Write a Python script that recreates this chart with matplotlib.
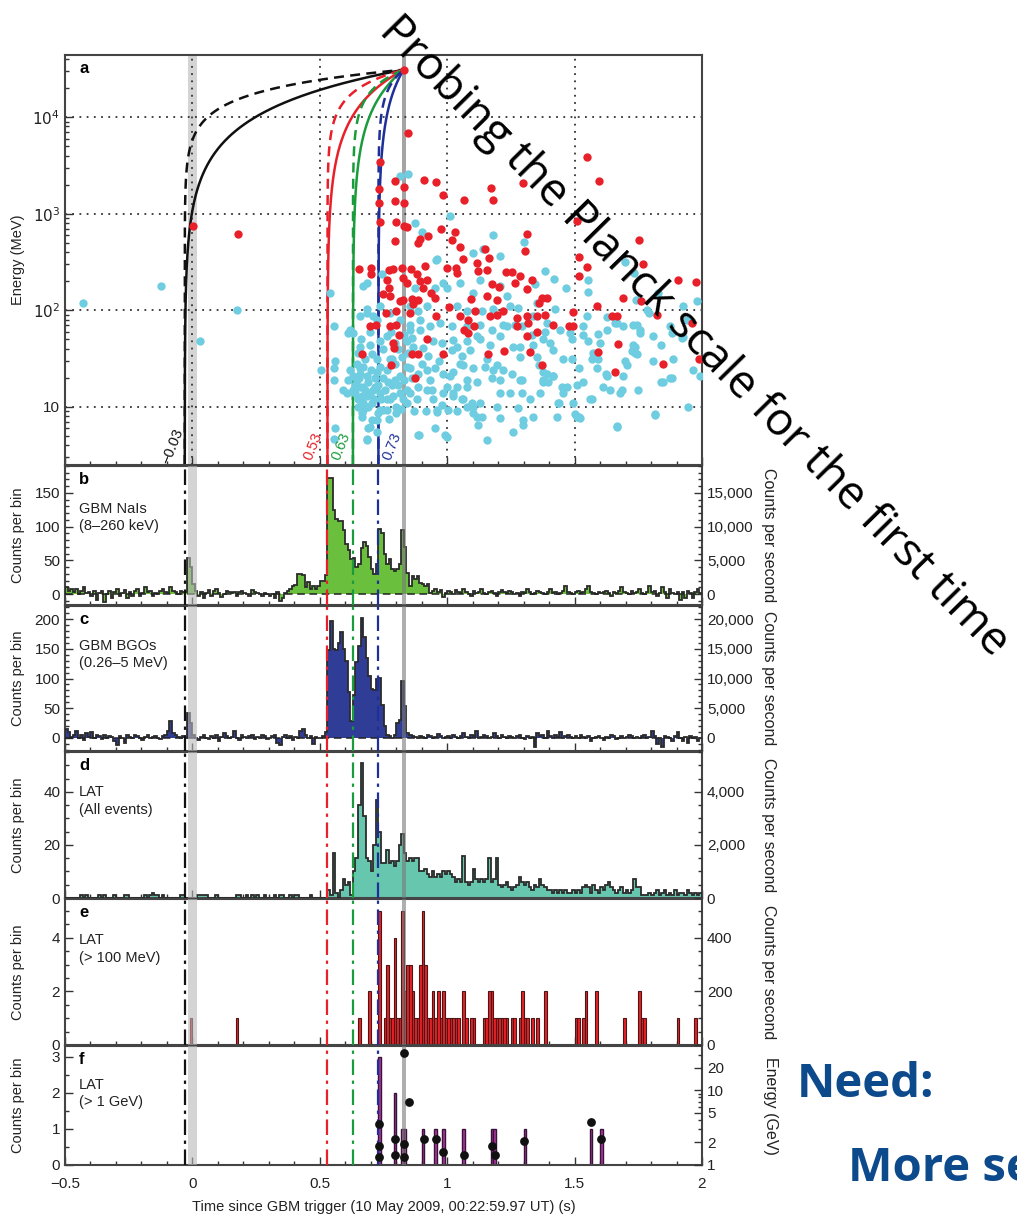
import numpy as np
import matplotlib
matplotlib.use('Agg')
import matplotlib.pyplot as plt
from matplotlib.ticker import MultipleLocator, FixedLocator, FuncFormatter, NullFormatter, LogLocator

plt.rcParams['font.family'] = ['Liberation Sans', 'DejaVu Sans']
plt.rcParams['font.size'] = 10
plt.rcParams['axes.unicode_minus'] = True

# ---------------- data ----------------
# start times of the delay curves / dash-dot markers (s)
t_starts = [-0.03, 0.53, 0.63, 0.73]
t_labels = ['\u22120.03', '0.53', '0.63', '0.73']
t_colors = ['#111111', '#e8202a', '#1a9c3c', '#1f2f9a']
t_peak = 0.829          # arrival of the 31 GeV photon
e_peak = 31000.0        # MeV

# LAT events > 100 MeV (time s, energy MeV)
red_events = [
    (0.004, 743), (0.179, 610), (0.829, 31000),
    (0.845, 6780), (1.550, 3880), (1.596, 2180), (0.909, 2250), (0.956, 2130), (0.795, 2200),
    (0.832, 1910), (1.170, 1830), (1.181, 1380), (1.067, 1380), (0.985, 1560), (1.296, 2100),
    (0.736, 3440), (0.732, 1820), (0.732, 1280), (0.832, 1280), (0.795, 1370), (0.736, 820),
    (0.801, 820), (0.832, 745), (0.843, 733), (0.976, 688), (1.031, 650), (1.312, 611),
    (1.306, 410), (0.795, 521), (0.893, 542), (0.926, 586), (0.886, 500), (1.017, 533),
    (1.050, 451), (1.148, 427), (1.164, 350), (1.508, 840), (1.754, 528), (1.518, 358),
    (1.547, 280), (1.518, 225), (1.770, 305), (1.907, 208), (1.976, 195), (1.760, 124),
    (1.691, 134), (1.586, 110), (1.645, 88), (1.665, 88), (1.822, 90), (1.959, 73),
    (1.671, 45), (1.593, 37), (1.848, 28), (1.990, 31), (1.658, 23), (0.655, 269),
    (0.699, 275), (0.699, 235), (0.773, 264), (0.789, 269), (0.821, 275), (0.858, 269),
    (0.828, 217), (0.841, 192), (0.880, 235), (0.913, 286), (0.919, 208), (0.893, 200),
    (0.906, 171), (0.935, 151), (0.952, 134), (0.998, 275), (1.034, 275), (1.037, 244),
    (1.063, 336), (1.116, 310), (1.120, 254), (1.155, 264), (1.231, 250), (1.254, 248),
    (1.286, 225), (1.266, 192), (1.331, 208), (1.312, 167), (1.174, 185), (1.204, 175),
    (1.092, 131), (1.155, 140), (1.194, 129), (1.371, 134), (1.390, 134), (1.361, 119),
    (0.765, 208), (0.770, 171), (0.747, 146), (0.776, 140), (0.815, 124), (0.828, 129),
    (0.861, 131), (0.867, 115), (0.887, 129), (0.760, 94), (0.801, 98), (0.854, 94),
    (0.958, 87), (1.008, 107), (1.050, 87), (1.083, 80), (1.106, 69), (1.109, 98),
    (1.168, 87), (1.194, 90), (1.220, 99), (1.273, 83), (1.312, 87), (1.318, 74),
    (1.273, 68), (1.351, 87), (1.384, 90), (1.416, 71), (1.479, 69), (1.492, 69),
    (1.492, 95), (0.697, 69), (0.720, 71), (0.775, 68), (0.801, 71), (0.812, 55),
    (0.789, 46), (0.792, 41), (0.919, 51), (0.887, 35), (0.860, 35), (0.664, 35),
    (0.985, 35), (1.224, 38), (1.325, 37), (1.161, 35), (1.312, 54), (1.351, 60),
    (1.371, 27), (1.083, 58), (1.067, 63), (0.874, 20), (0.778, 27),
]

# LAT events < 100 MeV (time s, energy MeV)
cyan_events = [
    (-0.428, 119), (-0.122, 177), (0.174, 100), (0.030, 48), (0.540, 151), (0.503, 24),
    (0.557, 68), (0.612, 58), (0.557, 25), (0.557, 19), (0.557, 4.7), (0.671, 177),
    (0.815, 2460), (0.845, 2600), (0.874, 805), (1.011, 946), (1.181, 601), (1.142, 434),
    (1.207, 364), (1.301, 513), (1.384, 254), (1.419, 213), (1.466, 171), (1.345, 185),
    (0.903, 646), (0.956, 328), (1.554, 208), (1.554, 155), (1.698, 316), (1.734, 244),
    (1.979, 124), (1.940, 80), (1.874, 69), (1.924, 53), (1.966, 24), (1.992, 21),
    (1.946, 10), (1.815, 8.5), (1.665, 6.3), (1.841, 18), (1.874, 20), (1.806, 30),
    (1.698, 30), (1.750, 15), (1.678, 14), (1.639, 15), (1.613, 16), (1.623, 22),
    (1.593, 31), (1.573, 36), (1.590, 57), (1.626, 85), (1.658, 74), (1.730, 71),
    (1.757, 63), (1.793, 94), (1.737, 42), (1.691, 69), (1.534, 55), (1.554, 48),
    (1.567, 12), (1.508, 17), (1.518, 7.8), (1.501, 8.5), (1.469, 16), (1.456, 14),
    (1.436, 11), (1.390, 22), (1.397, 18), (1.416, 21), (1.377, 19), (1.361, 27),
    (1.325, 12), (1.296, 6.5), (1.259, 5.5), (1.286, 19), (1.207, 7.6), (1.155, 4.5),
    (1.135, 7.8), (1.076, 10), (1.060, 12), (1.102, 8.6), (1.096, 11), (1.129, 11),
    (0.998, 4.9), (0.952, 6.0), (0.890, 5.1), (0.917, 9.0), (0.959, 9.3), (1.004, 9.3),
    (0.985, 14), (1.021, 14), (1.037, 16), (0.939, 15), (0.886, 16), (0.880, 12),
    (0.841, 11), (0.801, 10), (0.854, 14), (0.815, 14), (0.775, 12), (0.749, 9.3),
    (0.690, 6.0), (0.684, 4.7), (0.730, 8.6), (0.703, 7.3), (0.664, 8.6), (0.651, 10),
    (0.638, 14), (0.664, 13), (0.697, 14), (0.736, 14), (0.716, 16), (0.671, 16),
    (0.645, 19), (0.684, 21), (0.723, 23), (0.762, 24), (0.795, 19), (0.658, 25),
    (0.677, 31), (0.723, 31), (0.782, 31), (0.821, 33), (0.854, 25), (0.887, 22),
    (0.919, 24), (0.952, 25), (0.985, 22), (1.024, 23), (1.063, 27), (1.102, 25),
    (1.148, 26), (1.194, 27), (1.220, 24), (1.253, 22), (1.174, 20), (1.116, 18),
    (1.076, 16), (1.207, 14), (1.246, 14), (1.364, 14), (1.430, 7.9), (1.338, 7.9),
    (1.194, 10), (0.605, 14), (0.612, 19), (0.618, 24), (0.651, 36), (0.697, 44),
    (0.736, 48), (0.762, 54), (0.795, 46), (0.841, 48), (0.867, 42), (0.906, 41),
    (0.946, 48), (0.978, 46), (1.017, 39), (1.037, 42), (1.076, 48), (1.129, 50),
    (1.168, 44), (1.207, 54), (1.259, 42), (1.286, 33), (1.332, 56), (1.377, 50),
    (1.416, 39), (1.456, 31), (1.489, 50), (1.443, 63), (1.390, 74), (1.338, 87),
    (1.292, 68), (1.233, 68), (1.174, 63), (1.129, 71), (1.076, 68), (1.017, 68),
    (0.972, 74), (0.932, 68), (0.893, 63), (0.854, 71), (0.815, 80), (0.775, 94),
    (0.736, 110), (0.710, 87), (0.684, 102), (0.658, 87), (0.618, 63), (0.684, 192),
    (0.743, 235), (0.873, 171), (0.854, 110), (0.887, 98), (0.919, 110), (0.959, 336),
    (0.998, 171), (1.037, 110), (1.076, 98), (1.135, 98), (1.181, 102), (1.246, 110),
    (1.279, 106), (1.351, 119), (1.423, 102), (1.547, 87), (1.741, 129), (1.927, 110),
    (1.829, 151), (1.809, 54), (1.724, 38), (1.888, 31), (1.841, 44), (1.050, 192),
    (1.102, 151), (1.207, 177), (1.233, 140), (1.129, 208), (1.102, 394), (0.985, 192),
    (0.952, 171), (0.560, 30), (0.560, 6.0), (0.592, 15), (0.658, 22), (0.651, 12),
    (0.671, 9.3), (0.697, 6.2), (0.684, 4.5), (0.658, 16), (0.684, 13), (0.710, 15),
    (0.704, 11), (0.664, 7.9), (0.762, 9.3), (0.762, 12), (0.782, 17), (0.841, 15),
    (0.887, 5.1), (0.991, 5.1), (0.959, 8.9), (1.024, 13), (1.116, 7.9), (1.122, 6.5),
    (1.207, 19), (1.181, 24), (1.103, 10), (1.063, 12), (0.658, 42), (0.632, 58),
    (0.697, 60), (0.723, 80), (0.684, 94), (0.854, 63), (0.893, 80), (1.024, 49),
    (1.089, 39), (1.116, 54), (1.155, 31), (1.050, 28), (1.076, 19), (0.998, 16),
    (0.932, 19), (0.919, 15), (0.815, 21), (0.841, 26), (0.775, 31), (0.736, 26),
    (0.828, 12), (0.801, 8.6), (0.736, 9.3), (0.723, 5.5), (0.723, 7.3), (0.690, 18),
    (0.671, 26), (0.632, 21), (0.632, 15), (1.299, 7.3), (1.279, 9.7), (1.292, 14),
    (1.377, 18), (1.417, 21), (1.449, 16), (1.440, 11), (1.495, 11), (1.508, 7.9),
    (1.521, 7.6), (1.534, 18), (1.560, 12), (1.626, 21), (1.665, 6.2), (1.685, 15),
    (1.691, 21), (1.704, 27), (1.744, 35), (1.816, 8.2), (1.848, 18), (1.881, 20),
    (1.567, 31), (1.587, 25), (1.600, 46), (1.730, 44), (1.737, 36), (1.626, 63),
    (1.665, 74), (1.744, 71), (1.757, 58), (1.783, 101), (1.881, 58), (1.920, 52),
    (1.403, 46), (1.488, 31), (1.518, 25), (1.534, 68), (1.482, 58), (1.384, 60),
    (1.351, 33), (1.338, 44), (1.286, 42), (1.266, 71), (1.220, 71), (1.292, 19),
    (1.377, 23), (0.640, 17), (0.655, 20), (0.668, 11), (0.678, 15), (0.690, 10),
    (0.700, 24), (0.712, 12), (0.718, 20), (0.728, 17), (0.742, 12), (0.748, 20),
    (0.755, 15), (0.768, 18), (0.772, 7.5), (0.788, 13), (0.795, 28), (0.808, 17),
    (0.820, 9.5), (0.832, 19), (0.848, 36), (0.862, 20), (0.870, 9.0), (0.900, 28),
    (0.925, 34), (0.945, 12), (0.968, 30), (0.980, 10.5), (1.010, 21), (1.040, 9.0),
    (1.058, 34), (0.645, 28), (0.662, 50), (0.705, 35), (0.748, 40), (0.780, 60),
    (0.808, 40), (0.830, 56), (0.862, 52),
]

# light curves, counts per 0.01 s bin from -0.50 s to 2.00 s (rows of 0.25 s)
bin_width = 0.01
nai_counts = (
    [10, 5, 8, 3, 8, 0, 5, 10, 2, 3, -3, 5, -8, 2, 5, -12, 0, 5, -5, 3, 8, -3, 2, 6, -5]
    + [3, -2, 5, 8, -3, 2, 10, 3, 5, -3, 2, 0, 5, 8, 3, 2, 10, 5, 3, 0, 5, 3, 3, 54, 40]
    + [15, 5, -2, 3, -5, 2, 6, -3, 5, 8, 2, -4, 0, 5, 3, 2, 4, -2, 3, 5, 2, 0, -3, 6, 4]
    + [2, 0, -3, 2, 0, -2, 0, -5, 3, -10, -6, 2, 5, 8, 12, 14, 30, 30, 28, 10, 18, 8, 12, 8, 12]
    + [20, 20, 28, 172, 172, 125, 112, 108, 108, 95, 75, 65, 52, 53, 40, 45, 68, 77, 72, 55, 38, 30, 45, 97, 90]
    + [60, 45, 52, 38, 35, 38, 45, 95, 70, 32, 12, 27, 22, 27, 17, 15, 12, 15, 2, 5, 8, 3, 6, -4, 2]
    + [5, 3, 0, 6, 4, 2, 8, 3, 0, -3, 5, 2, 4, 7, 2, 0, 3, 5, 2, -2, 4, 6, 3, 2, 5]
    + [3, 0, 2, -2, 4, 2, 8, 3, 0, 2, 5, 3, 2, 0, 4, 8, 2, 3, 0, 2, 5, 12, 3, 2, 0]
    + [3, 5, 2, 4, 8, 12, 3, 2, 0, 4, 2, 3, 5, 2, -3, 4, 2, 5, 10, 3, 2, 0, 5, 2, 3]
    + [8, 2, 0, 4, 12, 3, 5, -2, 2, 10, 3, -5, 8, 2, 0, 4, -8, 3, -6, 5, 2, -6, 3, 8, 2]
)
bgo_counts = (
    [15, 10, 2, 5, 12, 0, 5, -3, 8, 2, 10, 0, 5, 3, -2, 5, 0, 3, 2, -5, -12, 3, 0, -8, 5]
    + [2, 0, 5, 3, 0, -3, 2, 5, 0, 2, 3, 0, -2, 3, 5, 12, 28, 8, 5, 2, 0, 3, 0, 42, 25]
    + [5, 0, -3, 2, 5, 0, -2, 3, 0, 5, -5, 2, 8, 3, 0, 2, 12, 0, -3, 5, 2, 0, 3, 5, -2]
    + [2, 0, 5, 3, -2, 0, 3, 5, -8, -12, 2, 5, 0, 3, -3, 2, 0, 12, 15, 5, 0, 3, -10, 2, 0]
    + [0, 3, 10, 148, 197, 150, 148, 160, 178, 150, 130, 78, 28, 72, 128, 155, 202, 170, 135, 105, 82, 80, 99, 101, 55]
    + [20, 5, 3, 0, 5, 25, 30, 96, 53, 8, 5, 3, 2, 0, 3, 2, 0, 5, 3, 0, 2, 6, 3, 0, 2]
    + [3, 0, 5, 2, 0, 3, 8, 2, 0, 5, 3, 12, 0, 2, 5, 3, 0, 2, 8, 3, 0, 5, 2, 0, 3]
    + [2, 0, 3, 5, 0, -2, 3, 0, 2, -15, 8, 3, 5, 0, 12, 3, 0, 5, 2, 10, 0, 3, 5, 2, 0]
    + [3, 0, 5, 2, 0, 3, -5, 0, 2, 3, 0, -3, 2, 0, 5, 3, -2, 0, 3, 0, 2, 5, 3, 0, 2]
    + [0, 3, 5, 0, 2, 12, 3, -10, 0, -15, 3, 2, 0, -5, 3, 10, 0, -5, 2, -8, 3, 0, 2, -5, 0]
)
lat_counts = (
    [0, 0, 0, 0, 0, 0, 1, 0, 1, 0, 0, 0, 0, 1, 0, 1, 0, 0, 0, 1, 0, 0, 0, 1, 1]
    + [0, 0, 0, 0, 0, 0, 1, 0, 1, 2, 1, 1, 0, 1, 0, 0, 0, 0, 0, 0, 1, 1, 0, 0, 0]
    + [0, 0, 1, 1, 1, 1, 0, 0, 0, 1, 0, 0, 0, 0, 0, 0, 0, 1, 1, 0, 0, 1, 0, 1, 0]
    + [1, 0, 0, 1, 0, 0, 0, 1, 0, 1, 1, 0, 0, 1, 0, 1, 1, 0, 0, 0, 0, 1, 0, 0, 0]
    + [0, 0, 0, 3, 1, 17, 2, 0, 3, 7, 5, 6, 1, 10, 15, 35, 51, 31, 15, 14, 10, 20, 37, 25, 13]
    + [13, 18, 13, 14, 12, 14, 20, 24, 17, 14, 15, 14, 15, 15, 10, 10, 11, 9, 8, 10, 8, 9, 8, 10, 9]
    + [10, 9, 8, 6, 7, 6, 16, 6, 5, 6, 11, 7, 6, 7, 6, 7, 15, 6, 7, 15, 5, 4, 5, 6, 4]
    + [3, 4, 5, 8, 6, 5, 6, 4, 3, 5, 4, 7, 5, 4, 3, 3, 2, 3, 2, 3, 2, 3, 2, 2, 3]
    + [2, 3, 2, 4, 5, 4, 2, 5, 3, 2, 4, 3, 5, 6, 4, 3, 2, 3, 4, 2, 3, 2, 3, 7, 4]
    + [4, 1, 1, 1, 2, 1, 2, 3, 1, 2, 3, 1, 2, 1, 3, 1, 2, 2, 1, 3, 2, 1, 2, 1, 2]
)

# LAT > 100 MeV: bin start (s) and counts
lat100_t = [-0.01, 0.17, 0.65, 0.69, 0.73, 0.75, 0.76, 0.77, 0.78, 0.79, 0.80, 0.81, 0.82, 0.83,
            0.84, 0.85, 0.86, 0.87, 0.88, 0.89, 0.90, 0.91, 0.92, 0.93, 0.94, 0.95, 0.96, 0.97,
            0.98, 0.99, 1.00, 1.01, 1.02, 1.03, 1.04, 1.06, 1.07, 1.09, 1.10, 1.14, 1.15, 1.16,
            1.17, 1.18, 1.19, 1.20, 1.21, 1.22, 1.23, 1.25, 1.26, 1.28, 1.29, 1.30, 1.31, 1.33,
            1.35, 1.38, 1.50, 1.51, 1.53, 1.54, 1.58, 1.69, 1.75, 1.76, 1.77, 1.90, 1.97]
lat100_c = [1, 1, 1, 2, 5, 1, 3, 1, 1, 4, 1, 1, 5, 2,
            3, 3, 2, 1, 1, 3, 5, 3, 1, 1, 2, 1, 2, 1,
            2, 1, 1, 1, 1, 1, 1, 2, 1, 1, 1, 1, 1, 2,
            2, 1, 1, 1, 1, 1, 1, 1, 1, 1, 2, 1, 1, 1,
            1, 2, 1, 1, 1, 2, 2, 1, 2, 1, 1, 1, 1]

# LAT > 1 GeV: bin start (s) and counts, plus photon energies (GeV)
lat1g_t = [0.73, 0.79, 0.82, 0.83, 0.90, 0.95, 0.98, 1.06, 1.17, 1.18, 1.30, 1.56, 1.60]
lat1g_c = [3, 2, 1, 1, 1, 1, 1, 1, 1, 1, 1, 1, 1]
gev_t = [0.733, 0.733, 0.733, 0.795, 0.795, 0.829, 0.831, 0.831, 0.849, 0.907, 0.956,
         0.985, 1.067, 1.176, 1.189, 1.301, 1.563, 1.603]
gev_e = [3.5, 1.8, 1.27, 2.2, 1.34, 31.0, 1.9, 1.27, 6.9, 2.2, 2.2,
         1.5, 1.36, 1.8, 1.37, 2.1, 3.8, 2.2]

# ---------------- figure ----------------
W, H = 1017, 1214
fig = plt.figure(figsize=(W / 100, H / 100), dpi=100)


def rect(top, bottom, left=65, right=702):
    return [left / W, 1 - bottom / H, (right - left) / W, (bottom - top) / H]


ax_a = fig.add_axes(rect(55, 465))
ax_b = fig.add_axes(rect(466, 605))
ax_c = fig.add_axes(rect(606, 751))
ax_d = fig.add_axes(rect(752, 898))
ax_e = fig.add_axes(rect(899, 1045))
ax_f = fig.add_axes(rect(1046, 1165))

edge_col = '#2b2b2b'
dashdot = (0, (7, 2.5, 1.5, 2.5))
tick_fs = 11
label_fs = 10.5


def base_style(ax, letter, px_h):
    ax.set_xlim(-0.5, 2)
    ax.xaxis.set_major_locator(MultipleLocator(0.5))
    ax.xaxis.set_minor_locator(MultipleLocator(0.1))
    ax.xaxis.set_major_formatter(NullFormatter())
    ax.tick_params(which='both', direction='in', top=False, right=False, width=1, colors='#333333',
                   labelcolor='#222222', labelsize=tick_fs)
    ax.tick_params(which='major', length=6)
    ax.tick_params(which='minor', length=3)
    for s in ax.spines.values():
        s.set_linewidth(1.5)
        s.set_color('#444444')
    ax.text(0.022, 1 - 6 / px_h, letter, transform=ax.transAxes, fontsize=12, weight='bold',
            va='top', ha='left', zorder=10)


def bands(ax):
    ax.axvspan(-0.016, 0.019, color='#b8b8b8', alpha=0.6, lw=0, zorder=5)
    ax.axvspan(0.822, 0.840, color='#7a7a7a', alpha=0.6, lw=0, zorder=5)
    for t0, col in zip(t_starts, t_colors):
        ax.axvline(t0, color=col, ls=dashdot, lw=1.6, zorder=6)


def right_axis(ax, scale, label, major, minor):
    axr = ax.twinx()
    lo, hi = ax.get_ylim()
    axr.set_ylim(lo * scale, hi * scale)
    axr.yaxis.set_major_locator(MultipleLocator(major))
    axr.yaxis.set_minor_locator(MultipleLocator(minor))
    axr.yaxis.set_major_formatter(FuncFormatter(lambda v, p: f'{v:,.0f}'.replace('-', '\u2212')))
    axr.tick_params(which='both', direction='in', width=1, colors='#333333', labelcolor='#222222',
                    labelsize=tick_fs)
    axr.tick_params(which='major', length=6)
    axr.tick_params(which='minor', length=3)
    for s in axr.spines.values():
        s.set_visible(False)
    axr.set_ylabel(label, rotation=270, va='center', ha='center', fontsize=11.5, color='#222222')
    axr.yaxis.set_label_coords(1.104, 0.5)
    return axr


def left_label(ax, text):
    ax.set_ylabel(text, va='center', ha='center', fontsize=label_fs, color='#222222')
    ax.yaxis.set_label_coords(-0.074, 0.5)


def panel_note(ax, text, yfrac):
    ax.text(0.022, yfrac, text, transform=ax.transAxes, fontsize=10.5, va='center', ha='left',
            linespacing=1.3, color='#222222', zorder=10)


edges = np.round(-0.5 + bin_width * np.arange(len(nai_counts) + 1), 2)

# ---- panel a ----
base_style(ax_a, 'a', 410)
ax_a.set_yscale('log')
ax_a.set_ylim(2.5, 44000)
ax_a.axvspan(-0.016, 0.019, color='#d4d4d4', lw=0, zorder=0)
ax_a.axvspan(0.822, 0.840, color='#a4a4a4', lw=0, zorder=1)
for x in [0, 0.5, 1, 1.5]:
    ax_a.axvline(x, ls=(0, (1, 3)), color='#333333', lw=1.3, zorder=1)
for y in [10, 100, 1000, 10000]:
    ax_a.axhline(y, ls=(0, (1, 3)), color='#333333', lw=1.3, zorder=1)
e_curve = np.logspace(np.log10(2.5), np.log10(e_peak), 500)
for t0, col in zip(t_starts, t_colors):
    dt = t_peak - t0
    ax_a.plot(t0 + dt * e_curve / e_peak, e_curve, color=col, lw=1.8, zorder=2)
    ax_a.plot(t0 + dt * (e_curve / e_peak) ** 2, e_curve, color=col, lw=1.8,
              ls=(0, (4, 2.5)), zorder=2)
cyan_t, cyan_e = np.array(cyan_events).T
red_t, red_e = np.array(red_events).T
ax_a.scatter(cyan_t, cyan_e, s=36, color='#6ecde0', lw=0, zorder=3)
ax_a.scatter(red_t, red_e, s=36, color='#e8202a', lw=0, zorder=4)
ax_a.yaxis.set_major_locator(FixedLocator([10, 100, 1000, 10000]))
ax_a.yaxis.set_major_formatter(FuncFormatter(
    lambda v, p: {10: '10', 100: '$10^2$', 1000: '$10^3$', 10000: '$10^4$'}.get(int(round(v)), '')))
ax_a.yaxis.set_minor_locator(LogLocator(base=10, subs=np.arange(2, 10) * 1.0, numticks=20))
ax_a.yaxis.set_minor_formatter(NullFormatter())
left_label(ax_a, 'Energy (MeV)')
for (xl, lab, col) in zip([-0.080, 0.475, 0.583, 0.783], t_labels, t_colors):
    ax_a.text(xl, 3.9, lab, color=col, rotation=68, fontsize=10.5, ha='center', va='center', zorder=6)

# ---- panel b ----
base_style(ax_b, 'b', 139)
ax_b.stairs(nai_counts, edges, baseline=0, fill=True, color='#6abf3c', zorder=2)
ax_b.stairs(nai_counts, edges, baseline=0, color=edge_col, lw=1.3, zorder=3)
ax_b.axhline(0, color='#222222', ls=(0, (5, 3)), lw=1.1, zorder=4)
ax_b.set_ylim(-16, 190)
ax_b.yaxis.set_major_locator(MultipleLocator(50))
ax_b.yaxis.set_minor_locator(MultipleLocator(10))
bands(ax_b)
left_label(ax_b, 'Counts per bin')
panel_note(ax_b, 'GBM NaIs\n(8\u2013260 keV)', 0.63)
right_axis(ax_b, 1 / bin_width, 'Counts per second', 5000, 1000)

# ---- panel c ----
base_style(ax_c, 'c', 145)
ax_c.stairs(bgo_counts, edges, baseline=0, fill=True, color='#2f3d96', zorder=2)
ax_c.stairs(bgo_counts, edges, baseline=0, color=edge_col, lw=1.3, zorder=3)
ax_c.axhline(0, color='#222222', ls=(0, (5, 3)), lw=1.1, zorder=4)
ax_c.set_ylim(-22, 222)
ax_c.yaxis.set_major_locator(MultipleLocator(50))
ax_c.yaxis.set_minor_locator(MultipleLocator(10))
bands(ax_c)
left_label(ax_c, 'Counts per bin')
panel_note(ax_c, 'GBM BGOs\n(0.26\u20135 MeV)', 0.665)
right_axis(ax_c, 1 / bin_width, 'Counts per second', 5000, 1000)

# ---- panel d ----
base_style(ax_d, 'd', 146)
ax_d.stairs(lat_counts, edges, baseline=0, fill=True, color='#67c6ae', zorder=2)
ax_d.stairs(lat_counts, edges, baseline=0, color=edge_col, lw=1.3, zorder=3)
ax_d.set_ylim(0, 55)
ax_d.yaxis.set_major_locator(MultipleLocator(20))
ax_d.yaxis.set_minor_locator(MultipleLocator(5))
bands(ax_d)
left_label(ax_d, 'Counts per bin')
panel_note(ax_d, 'LAT\n(All events)', 0.665)
right_axis(ax_d, 1 / bin_width, 'Counts per second', 2000, 500)

# ---- panel e ----
base_style(ax_e, 'e', 146)
ax_e.bar(lat100_t, lat100_c, width=bin_width, align='edge', color='#e82228',
         edgecolor='#4a1616', lw=0.8, zorder=2)
ax_e.set_ylim(0, 5.45)
ax_e.yaxis.set_major_locator(MultipleLocator(2))
ax_e.yaxis.set_minor_locator(MultipleLocator(0.5))
bands(ax_e)
left_label(ax_e, 'Counts per bin')
panel_note(ax_e, 'LAT\n(> 100 MeV)', 0.658)
right_axis(ax_e, 1 / bin_width, 'Counts per second', 200, 50)

# ---- panel f ----
base_style(ax_f, 'f', 119)
ax_f.bar(lat1g_t, lat1g_c, width=bin_width, align='edge', color='#a8379f',
         edgecolor='#3a1438', lw=1.0, zorder=2)
ax_f.set_ylim(0, 3.3)
ax_f.yaxis.set_major_locator(MultipleLocator(1))
ax_f.yaxis.set_minor_locator(MultipleLocator(0.5))
bands(ax_f)
left_label(ax_f, 'Counts per bin')
panel_note(ax_f, 'LAT\n(> 1 GeV)', 0.60)
ax_f.xaxis.set_major_formatter(FuncFormatter(lambda v, p: f'{v:g}'.replace('-', '\u2212')))
ax_f.tick_params(axis='x', which='major', pad=9)
ax_f.set_xlabel('Time since GBM trigger (10 May 2009, 00:22:59.97 UT) (s)', fontsize=10.5,
                color='#222222', labelpad=6)
axr_f = ax_f.twinx()
axr_f.set_yscale('log')
axr_f.set_ylim(1, 39)
axr_f.scatter(gev_t, gev_e, s=40, color='#111111', lw=0, zorder=8, clip_on=False)
axr_f.yaxis.set_major_locator(FixedLocator([1, 2, 5, 10, 20]))
axr_f.yaxis.set_major_formatter(FuncFormatter(lambda v, p: f'{v:g}'))
axr_f.yaxis.set_minor_locator(LogLocator(base=10, subs=np.arange(2, 10) * 1.0, numticks=20))
axr_f.yaxis.set_minor_formatter(NullFormatter())
axr_f.tick_params(which='both', direction='in', width=1, colors='#333333', labelcolor='#222222',
                  labelsize=tick_fs)
axr_f.tick_params(which='major', length=6)
axr_f.tick_params(which='minor', length=3)
for s in axr_f.spines.values():
    s.set_visible(False)
axr_f.set_ylabel('Energy (GeV)', rotation=270, va='center', ha='center', fontsize=11.5,
                 color='#222222')
axr_f.yaxis.set_label_coords(1.107, 0.5)

# ---------------- slide overlay text ----------------
fig.text(378 / W, 1 - 32 / H, 'Probing the Planck scale for the first time', rotation=-45.5,
         rotation_mode='anchor', ha='left', va='baseline', fontsize=33, family='Open Sans',
         color='black', zorder=20)
fig.text(797 / W, 1 - 1097 / H, 'Need:', fontsize=34, weight='bold', family='Open Sans',
         color='#0d4a8c', ha='left', va='baseline', zorder=20)
fig.text(848 / W, 1 - 1181 / H, 'More se', fontsize=34, weight='bold', family='Open Sans',
         color='#0d4a8c', ha='left', va='baseline', zorder=20)

fig.savefig('out.png', dpi=100)
